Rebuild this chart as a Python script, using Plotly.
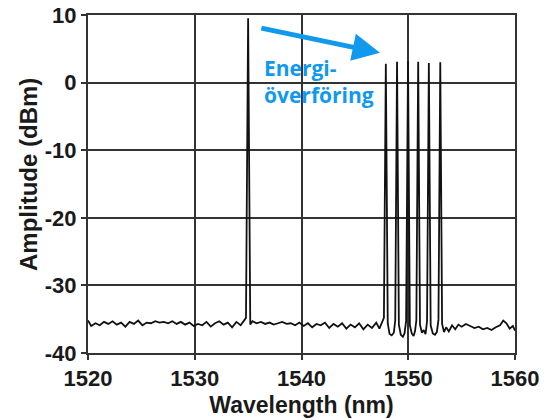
import plotly.graph_objects as go

# Spectrum trace (wavelength in nm, amplitude in dBm)
wavelength = [
    1520.0, 1520.3, 1520.7, 1521.1, 1521.5, 1521.9, 1522.3, 1522.7, 1523.1, 1523.5,
    1523.9, 1524.3, 1524.7, 1525.1, 1525.5, 1525.9, 1526.3, 1526.7, 1527.1, 1527.5,
    1527.9, 1528.3, 1528.7, 1529.1, 1529.5, 1529.9, 1530.3, 1530.7, 1531.1, 1531.5,
    1531.9, 1532.3, 1532.7, 1533.1, 1533.5, 1533.9, 1534.3, 1534.6, 1534.8, 1535.0,
    1535.2, 1535.4, 1535.8, 1536.2, 1536.6, 1537.0, 1537.4, 1537.8, 1538.2, 1538.6,
    1539.0, 1539.4, 1539.8, 1540.2, 1540.6, 1541.0, 1541.4, 1541.8, 1542.2, 1542.6,
    1543.0, 1543.4, 1543.8, 1544.2, 1544.6, 1545.0, 1545.4, 1545.8, 1546.2, 1546.6,
    1547.0, 1547.3, 1547.55, 1547.72, 1547.9, 1548.08, 1548.25, 1548.45, 1548.65, 1548.78,
    1548.95, 1549.12, 1549.3, 1549.5, 1549.65, 1549.8, 1549.98, 1550.15, 1550.33, 1550.5,
    1550.63, 1550.76, 1550.93, 1551.1, 1551.28, 1551.45, 1551.62, 1551.76, 1551.93, 1552.1,
    1552.3, 1552.5, 1552.68, 1552.83, 1553.0, 1553.17, 1553.35, 1553.55, 1553.8, 1554.1,
    1554.4, 1554.7, 1555.0, 1555.4, 1555.8, 1556.2, 1556.6, 1557.0, 1557.4, 1557.8,
    1558.2, 1558.6, 1558.9, 1559.2, 1559.5, 1559.8, 1560.0,
]
amplitude = [
    -35.2, -36.0, -35.6, -35.9, -35.4, -35.7, -35.3, -35.8, -35.5, -36.1,
    -35.4, -35.7, -35.2, -35.9, -35.5, -35.6, -35.3, -35.5, -35.4, -35.6,
    -35.3, -35.7, -35.4, -35.8, -35.5, -36.0, -35.7, -35.9, -35.4, -36.1,
    -35.6, -35.3, -35.8, -35.5, -36.2, -35.4, -35.9, -35.3, -34.8, 9.5,
    -35.8, -35.3, -35.6, -35.4, -35.7, -35.5, -35.8, -35.6, -35.4, -35.7,
    -35.6, -35.9, -35.5, -36.0, -35.6, -36.2, -35.7, -35.9, -35.5, -36.3,
    -35.7, -36.1, -35.6, -36.4, -35.8, -36.2, -35.6, -36.5, -35.8, -36.3,
    -35.5, -36.4, -35.4, -34.8, 2.8, -35.6, -37.2, -37.4, -37.0, -35.2,
    3.1, -35.8, -37.3, -37.6, -37.1, -35.3, 3.2, -35.9, -37.1, -37.5,
    -36.8, -35.2, 3.1, -35.8, -37.0, -36.6, -37.2, -35.3, 2.9, -35.9,
    -37.1, -37.3, -36.9, -35.1, 3.0, -35.7, -36.9, -36.2, -36.8, -35.9,
    -36.5, -35.8, -36.1, -35.7, -36.0, -36.3, -36.1, -36.5, -36.3, -36.6,
    -36.2, -35.9, -35.2, -35.6, -36.4, -36.0, -36.7,
]

x_ticks = [1520, 1530, 1540, 1550, 1560]
y_ticks = [-40, -30, -20, -10, 0, 10]
x_title = "Wavelength (nm)"
y_title = "Amplitude (dBm)"
note_text = "Energi-<br>överföring"
arrow_from = (1536.1, 8.1)
arrow_to = (1547.35, 4.4)
note_pos = (1536.3, 0.1)

BLUE = "#1199EE"
INK = "#1a1a1a"
tick_font = dict(family="Liberation Sans", size=22, color=INK, weight="bold")
title_font = dict(family="Liberation Sans", size=23, color=INK, weight="bold")

fig = go.Figure()
fig.add_trace(go.Scatter(
    x=wavelength, y=amplitude, mode="lines",
    line=dict(color="#111111", width=1.8),
    hoverinfo="skip", showlegend=False,
))

axis_common = dict(
    showgrid=True, gridcolor="#333333", gridwidth=2,
    showline=True, linecolor="#333333", linewidth=2, mirror=True,
    ticks="outside", ticklen=5, tickwidth=2, tickcolor="#333333",
    zeroline=False, tickfont=tick_font, ticklabeloverflow="allow",
)

fig.update_xaxes(range=[1520, 1560], tickvals=x_ticks, ticktext=[str(v) for v in x_ticks],
                 title=dict(text=x_title, font=title_font, standoff=6), **axis_common)
fig.update_yaxes(range=[-40, 10], tickvals=y_ticks, ticktext=[str(v) for v in y_ticks],
                 **axis_common)

# y-axis title (placed slightly above centre, as in the reference)
fig.add_annotation(
    x=-0.1405, y=0.5266, xref="paper", yref="paper",
    text=y_title, textangle=-90, showarrow=False,
    xanchor="center", yanchor="middle", font=dict(family="Liberation Sans", size=24, color=INK, weight="bold"),
)

fig.add_annotation(
    x=arrow_to[0], y=arrow_to[1], ax=arrow_from[0], ay=arrow_from[1],
    xref="x", yref="y", axref="x", ayref="y",
    text="", showarrow=True, arrowhead=2, arrowsize=1.1, arrowwidth=5,
    arrowcolor=BLUE,
)
fig.add_annotation(
    x=note_pos[0], y=note_pos[1], xref="x", yref="y",
    text=note_text, showarrow=False, xanchor="left", yanchor="middle", align="left",
    font=dict(family="Open Sans", size=21, color=BLUE, weight="bold"),
)

fig.update_layout(
    width=557, height=420,
    margin=dict(l=88, r=42, t=15, b=67, autoexpand=False),
    paper_bgcolor="white", plot_bgcolor="white",
)

# remove the default 8px page margin so the figure fills the window exactly
fig.write_html("out.html", config={"displayModeBar": False},
               post_script="document.body.style.margin='0';")
